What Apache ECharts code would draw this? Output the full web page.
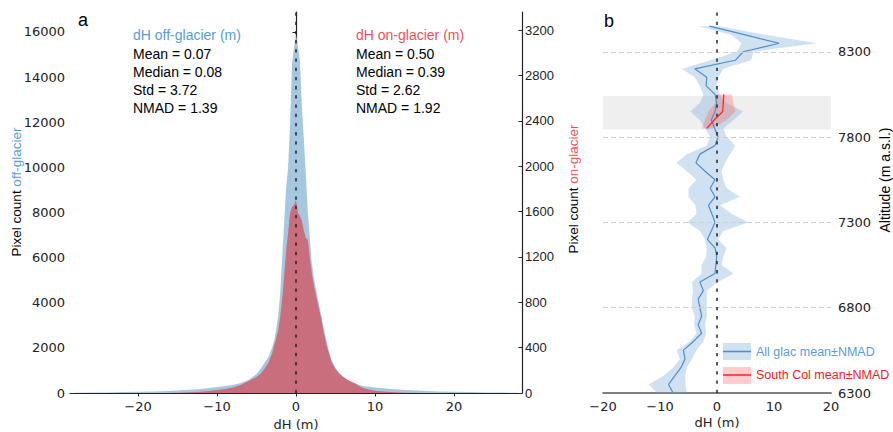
<!DOCTYPE html>
<html><head><meta charset="utf-8">
<script src="https://cdn.jsdelivr.net/npm/echarts@6/dist/echarts.min.js"></script>
<style>html,body{margin:0;padding:0;background:#fff}#c{width:893px;height:432px}</style>
</head><body><div id="c"></div>
<script>
// ---------- Panel a: histogram data ----------
const histX = [-28,-26,-24,-22,-20,-18,-16,-14,-12,-11,-10,-9,-8,-7,-6,-5.5,-5,-4.5,-4,-3.5,-3,-2.75,-2.5,-2.25,-2,-1.75,-1.5,-1.25,-1,-0.75,-0.5,-0.25,0,0.25,0.5,0.75,1,1.25,1.5,1.75,2,2.25,2.5,2.75,3,3.25,3.5,3.75,4,4.5,5,5.5,6,6.5,7,7.5,8,8.5,9,10,11,12,13,14,16,18,20,22,24,26,28];
const offGlacier = [13,18,27,40,53,66,90,130,180,220,270,310,350,440,580,710,840,1060,1330,1600,2040,2350,2840,3460,4430,5980,7530,9090,10000,11900,14630,15330,15870,15330,14710,12600,11200,9660,7980,6870,5760,5140,4650,4210,3770,3370,2880,2480,2080,1460,1110,890,710,580,490,420,350,310,290,240,210,180,155,130,100,70,53,40,27,18,13];
const onGlacier = [0,0,0,0,0,0,0,4,11,18,26,35,48,71,106,123,141,167,212,264,353,423,485,555,670,829,1031,1252,1410,1587,1640,1657,1701,1587,1560,1516,1428,1366,1349,1190,1058,952,873,793,714,635,538,458,388,273,212,167,141,119,101,84,62,44,35,20,13,9,4,3,0,0,0,0,0,0,0];
const histXTicks = [-20,-10,0,10,20];
const histLeftTicks = [0,2000,4000,6000,8000,10000,12000,14000,16000];
const histRightTicks = [0,400,800,1200,1600,2000,2400,2800,3200];
const statsOffTitle = 'dH off-glacier (m)';
const statsOff = ['Mean = 0.07','Median = 0.08','Std = 3.72','NMAD = 1.39'];
const statsOnTitle = 'dH on-glacier (m)';
const statsOn = ['Mean = 0.50','Median = 0.39','Std = 2.62','NMAD = 1.92'];

// ---------- Panel b: altitude profile data ----------
const altitudes = [8450,8400,8350,8300,8250,8200,8150,8100,8050,8000,7950,7900,7850,7800,7750,7700,7650,7600,7550,7500,7450,7400,7350,7300,7250,7200,7150,7100,7050,7000,6950,6900,6850,6800,6750,6700,6650,6600,6550,6500,6450,6400,6350,6300];
const allMean = [-1.35,4.8,10.9,4.6,3.2,-3.9,-1.8,-1.9,-0.35,-0.05,-0.35,-1.0,-0.4,0.2,-0.35,-3.0,-3.7,-2.1,-0.35,-1.2,-0.35,-1.5,-0.9,-0.35,-1.0,-1.7,-0.35,-0.05,-0.2,-0.35,-3.0,-2.4,-3.3,-3.0,-2.7,-3.3,-2.7,-4.2,-5.9,-5.6,-6.3,-7.4,-8.5,-7.7];
const allLo = [-3.3,2.5,4.3,3.5,-1.2,-6.2,-3.9,-3.0,-2.4,-3.0,-4.7,-3.0,-2.1,-1.2,-1.8,-5.3,-7.1,-5.3,-3.6,-5.0,-5.0,-3.8,-3.6,-5.2,-3.0,-2.1,-1.8,-1.9,-2.7,-2.7,-4.4,-4.2,-4.4,-4.4,-3.9,-4.0,-3.6,-4.8,-7.1,-6.5,-7.7,-9.4,-12.0,-10.5];
const allHi = [0.3,8.5,17.5,6.4,6.0,1.1,0.2,-0.05,0.5,1.7,4.6,2.9,1.1,1.7,3.2,2.3,1.4,0.8,1.1,1.7,4.0,0.5,2.6,5.5,1.1,0.2,1.7,1.1,0.8,2.9,0.2,-1.8,-1.8,-1.8,-1.8,-2.1,-1.9,-2.4,-3.6,-4.4,-5.3,-5.6,-5.5,-5.3];
const colAltitudes = [8050,8000,7950,7900,7850];
const colMean = [1.2,1.1,1.0,-0.5,-1.8];
const colLo = [-0.05,-0.35,-1.5,-2.1,-2.7];
const colHi = [2.6,2.9,3.2,1.7,-0.9];
const southColRange = [7845,8040];
const altTicks = [6300,6800,7300,7800,8300];
const profXTicks = [-20,-10,0,10,20];

const BLUE_TXT = '#5b9bd5', RED_TXT = '#f0505a';
const SANS = 'Liberation Sans';
const DJ = 'DejaVu Sans';
const minusFmt = v => (v < 0 ? '\u2212' + Math.abs(v) : String(v));
const plainFmt = v => String(v);

function band(xi, yi, lo, hi, alts, color, z) {
  return {
    type: 'custom', xAxisIndex: xi, yAxisIndex: yi, z: z, silent: true,
    encode: {x: [0, 1], y: 2},
    data: alts.map((a, i) => [lo[i], hi[i], a]),
    renderItem: (params, api) => {
      if (params.dataIndex !== 0) return null;
      const pts = [];
      for (let i = 0; i < alts.length; i++) pts.push(api.coord([hi[i], alts[i]]));
      for (let i = alts.length - 1; i >= 0; i--) pts.push(api.coord([lo[i], alts[i]]));
      return {type: 'polygon', shape: {points: pts}, style: {fill: color}};
    }
  };
}

const graphics = [];
graphics.push({type:'text', x:78, y:11, style:{text:'a', font:'18px '+SANS, fill:'#000'}});
graphics.push({type:'text', x:604, y:12, style:{text:'b', font:'18px '+SANS, fill:'#000'}});
graphics.push({type:'text', x:133, y:35, style:{text:statsOffTitle, font:'14px '+SANS, fill:BLUE_TXT, verticalAlign:'middle'}});
statsOff.forEach((t,i)=>graphics.push({type:'text', x:133, y:53.5+i*18, style:{text:t, font:'14px '+SANS, fill:'#000', verticalAlign:'middle'}}));
graphics.push({type:'text', x:356, y:35, style:{text:statsOnTitle, font:'14px '+SANS, fill:RED_TXT, verticalAlign:'middle'}});
statsOn.forEach((t,i)=>graphics.push({type:'text', x:356, y:53.5+i*18, style:{text:t, font:'14px '+SANS, fill:'#000', verticalAlign:'middle'}}));
graphics.push({type:'text', x:16, y:192, rotation:Math.PI/2, style:{text:'{a|Pixel count }{b|off-glacier}', font:'13.5px '+SANS, align:'center', verticalAlign:'middle', rich:{a:{fill:'#000', fontSize:13.5, fontFamily:SANS}, b:{fill:BLUE_TXT, fontSize:13.5, fontFamily:SANS}}}});
graphics.push({type:'text', x:573, y:189, rotation:Math.PI/2, style:{text:'{a|Pixel count }{b|on-glacier}', font:'13.5px '+SANS, align:'center', verticalAlign:'middle', rich:{a:{fill:'#000', fontSize:13.5, fontFamily:SANS}, b:{fill:RED_TXT, fontSize:13.5, fontFamily:SANS}}}});
graphics.push({type:'text', x:885, y:180, rotation:Math.PI/2, style:{text:'Altitude (m a.s.l.)', font:'14px '+SANS, fill:'#000', align:'center', verticalAlign:'middle'}});
graphics.push({type:'text', x:607, y:122, style:{text:'South Col Glac.', font:'13px '+SANS, fill:'#f04848', verticalAlign:'middle'}});
// legend
graphics.push({type:'rect', shape:{x:723, y:343, width:28, height:17}, style:{fill:'rgba(120,170,215,0.35)'}});
graphics.push({type:'line', shape:{x1:723, y1:351.5, x2:751, y2:351.5}, style:{stroke:'#4f8fc6', lineWidth:1.6}});
graphics.push({type:'text', x:756, y:351.5, style:{text:'All glac mean\u00b1NMAD', font:'12.5px '+SANS, fill:BLUE_TXT, verticalAlign:'middle'}});
graphics.push({type:'rect', shape:{x:723, y:367, width:28, height:17}, style:{fill:'rgba(255,90,90,0.3)'}});
graphics.push({type:'line', shape:{x1:723, y1:375, x2:751, y2:375}, style:{stroke:'#f03030', lineWidth:1.6}});
graphics.push({type:'text', x:756, y:375, style:{text:'South Col mean\u00b1NMAD', font:'12.5px '+SANS, fill:'#f02020', verticalAlign:'middle'}});

const dashedZero = {symbol:'none', silent:true, label:{show:false}, lineStyle:{color:'#222', type:[3.3,5.9], width:1.5}, data:[{xAxis:0}]};

const option = {
  animation: false,
  textStyle: {fontFamily: DJ},
  grid: [
    {left:70, top:12, width:452, height:381, outerBoundsMode:'none', containLabel:false},
    {left:603, top:12, width:228, height:381, outerBoundsMode:'none', containLabel:false}
  ],
  xAxis: [
    {type:'value', gridIndex:0, min:-28.6, max:28.6, splitLine:{show:false},
     axisLine:{lineStyle:{color:'#222', width:1.2}},
     axisTick:{customValues:histXTicks, length:3.5, lineStyle:{color:'#222'}},
     axisLabel:{customValues:histXTicks, formatter:minusFmt, color:'#222', fontSize:13, lineHeight:13, fontFamily:DJ, margin:7},
     name:'dH (m)', nameLocation:'middle', nameGap:24, nameMoveOverlap:false,
     nameTextStyle:{fontSize:13, lineHeight:14, fontFamily:DJ, color:'#222'}},
    {type:'value', gridIndex:1, min:-20, max:20, interval:10, splitLine:{show:false},
     axisLine:{lineStyle:{color:'#555', width:1.6}}, axisTick:{show:false},
     axisLabel:{customValues:profXTicks, formatter:minusFmt, color:'#222', fontSize:13, lineHeight:13, fontFamily:DJ, margin:7},
     name:'dH (m)', nameLocation:'middle', nameGap:22, nameMoveOverlap:false,
     nameTextStyle:{fontSize:13, lineHeight:14, fontFamily:DJ, color:'#222'}}
  ],
  yAxis: [
    {type:'value', gridIndex:0, min:0, max:16880, position:'left', splitLine:{show:false},
     axisLine:{show:true, lineStyle:{color:'#222', width:1.2}},
     axisTick:{show:true, customValues:histLeftTicks, length:3.5, lineStyle:{color:'#222'}},
     axisLabel:{customValues:histLeftTicks, formatter:plainFmt, color:'#222', fontSize:13, fontFamily:DJ, margin:5}},
    {type:'value', gridIndex:0, min:0, max:3360, position:'right', splitLine:{show:false},
     axisLine:{show:true, lineStyle:{color:'#222', width:1.2}},
     axisTick:{show:true, inside:true, customValues:histRightTicks, length:3.5, lineStyle:{color:'#222'}},
     axisLabel:{customValues:histRightTicks, formatter:plainFmt, color:'#222', fontSize:13, fontFamily:SANS, margin:3}},
    {type:'value', gridIndex:1, min:6300, max:8533, position:'right', splitLine:{show:false},
     axisLine:{show:false}, axisTick:{show:false},
     axisLabel:{customValues:altTicks, formatter:plainFmt, color:'#222', fontSize:13, fontFamily:DJ, margin:7}}
  ],
  graphic: graphics,
  series: [
    {type:'line', name:'off-glacier', xAxisIndex:0, yAxisIndex:0, z:2, silent:true, showSymbol:false,
     data: histX.map((x,i)=>[x, offGlacier[i]]),
     lineStyle:{width:0, opacity:0}, areaStyle:{color:'#a6c7e0', opacity:1}},
    {type:'line', name:'on-glacier', xAxisIndex:0, yAxisIndex:1, z:3, silent:true, showSymbol:false,
     data: histX.map((x,i)=>[x, onGlacier[i]]),
     lineStyle:{width:0, opacity:0}, areaStyle:{color:'rgba(228,37,44,0.55)', opacity:1},
     markLine: dashedZero},
    {type:'line', xAxisIndex:1, yAxisIndex:2, z:1, silent:true, showSymbol:false, data:[],
     markArea:{silent:true, itemStyle:{color:'#efefef'}, data:[[{yAxis:southColRange[0]},{yAxis:southColRange[1]}]]},
     markLine:{symbol:'none', silent:true, label:{show:false}, lineStyle:{color:'#cfcfcf', type:[5,3], width:1},
               data: altTicks.filter(a=>a>altTicks[0]).map(a=>({yAxis:a}))}},
    band(1, 2, allLo, allHi, altitudes, 'rgba(120,170,215,0.35)', 2),
    band(1, 2, colLo, colHi, colAltitudes, 'rgba(255,90,90,0.3)', 3),
    {type:'line', xAxisIndex:1, yAxisIndex:2, z:4, silent:true, showSymbol:false,
     data: altitudes.map((a,i)=>[allMean[i], a]),
     lineStyle:{color:'#4f8fc6', width:1.2}, markLine: dashedZero},
    {type:'line', xAxisIndex:1, yAxisIndex:2, z:5, silent:true, showSymbol:false,
     data: colAltitudes.map((a,i)=>[colMean[i], a]),
     lineStyle:{color:'#f03030', width:1.3}}
  ]
};
const chart = echarts.init(document.getElementById('c'), null, {renderer:'svg'});
chart.setOption(option);
</script></body></html>
